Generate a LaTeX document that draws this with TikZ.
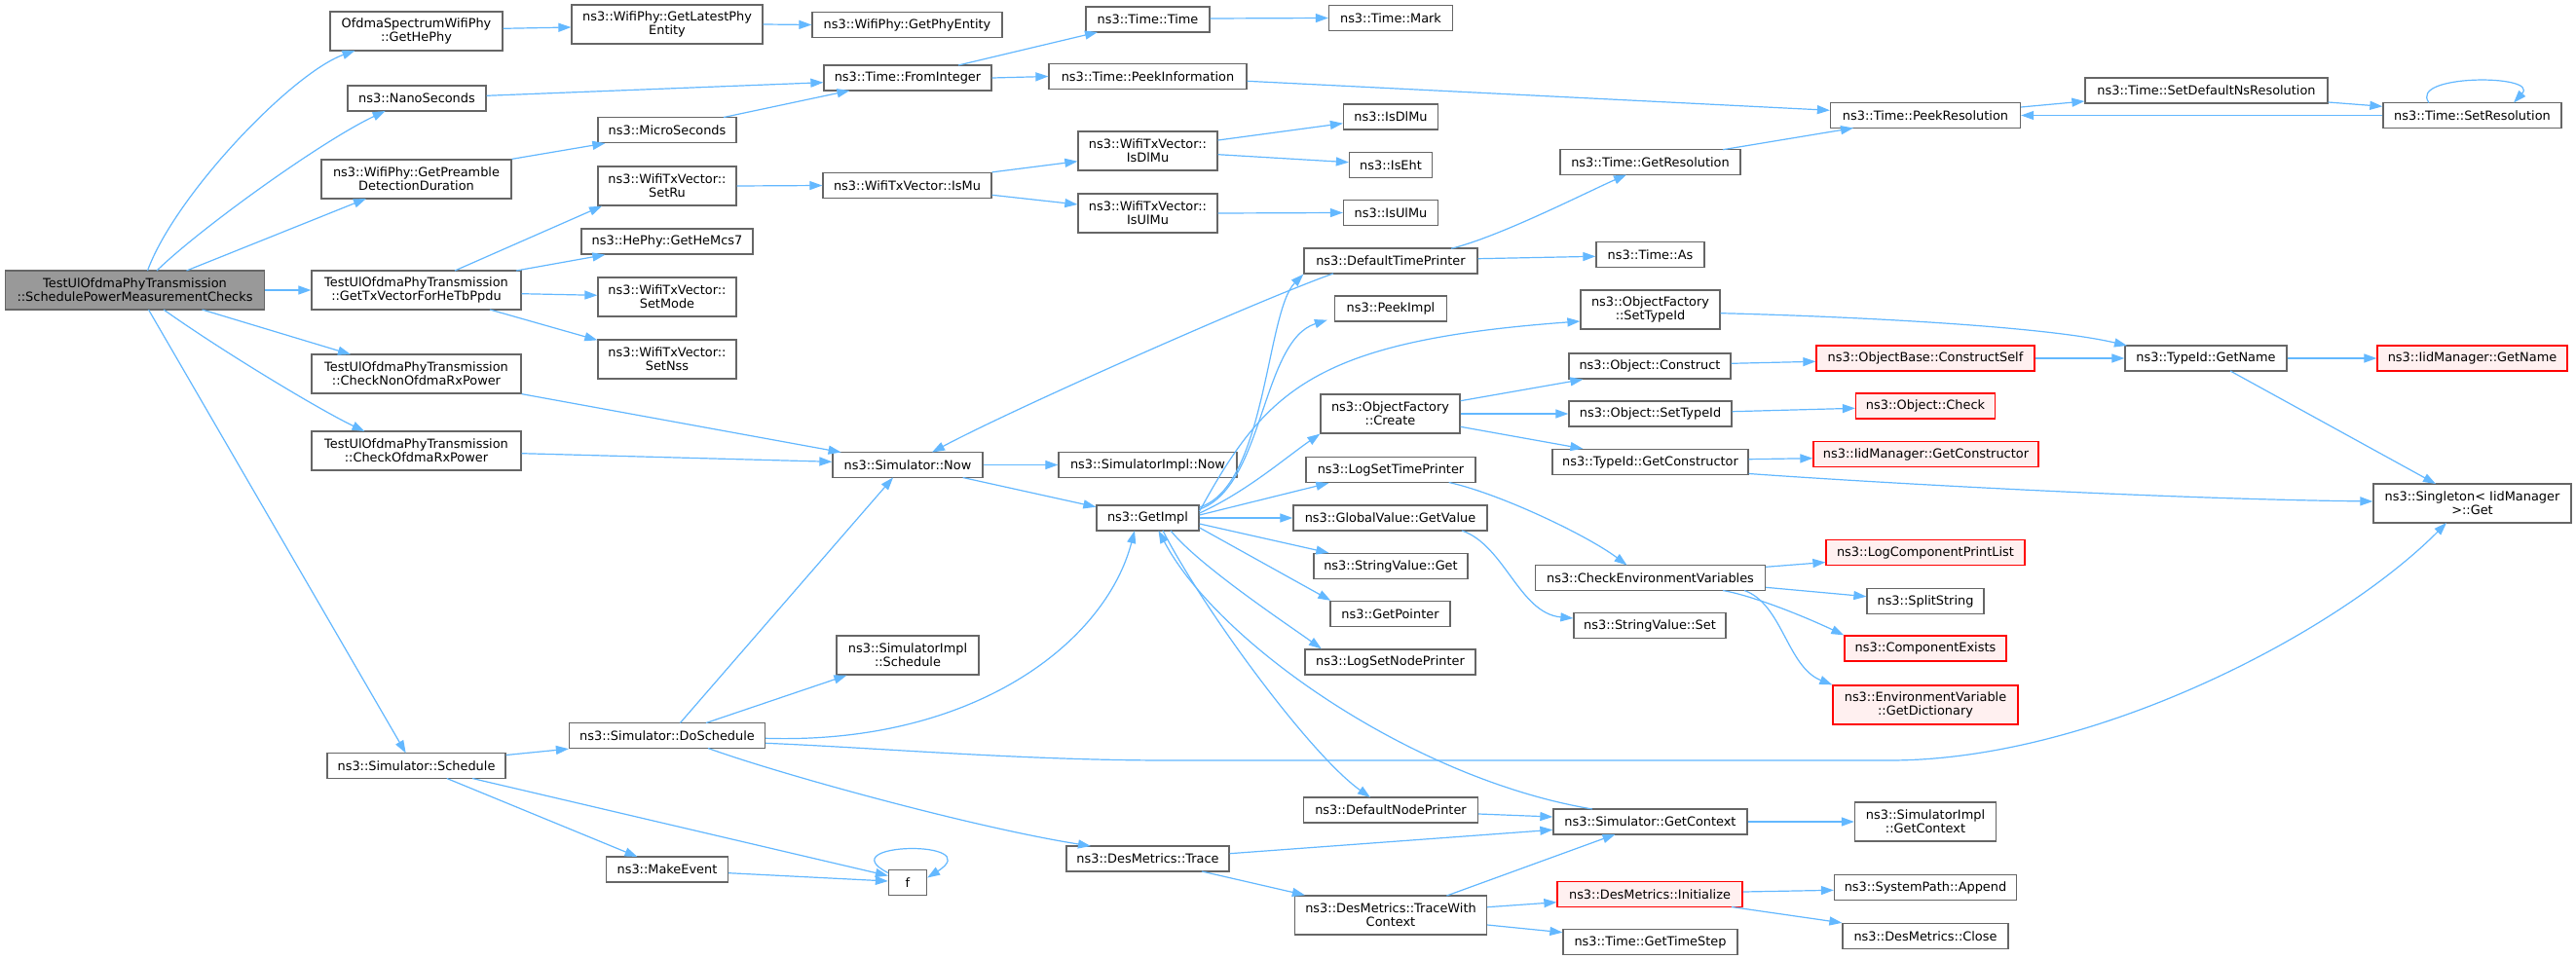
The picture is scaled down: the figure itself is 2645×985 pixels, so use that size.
\documentclass[tikz,border=0pt]{standalone}
\usepackage{fontspec}
\newfontfamily\dvsfam{DejaVu Sans}
\usetikzlibrary{arrows.meta,calc}
\definecolor{edgeblue}{RGB}{99,184,255}
\definecolor{nodegray}{RGB}{102,102,102}
\definecolor{maingray}{RGB}{153,153,153}
\definecolor{redfill}{RGB}{255,240,240}
\definecolor{redline}{RGB}{255,0,0}
\newcommand{\myNodeFont}{\dvsfam\fontsize{12.9pt}{13.8pt}\selectfont}
\tikzset{
  box/.style={draw=nodegray, fill=white, line width=1.3pt, inner sep=0pt, align=center, font=\myNodeFont},
  redbox/.style={box, draw=redline, fill=redfill},
  mainbox/.style={box, fill=maingray},
  hone/.style={minimum height=26pt},
  htwo/.style={minimum height=40pt},
  edge/.style={draw=edgeblue, line width=1.2pt, -{Triangle[length=13pt,width=9pt]}},
}
\begin{document}
\begin{tikzpicture}[x=1pt,y=-1pt]
\fill[white] (0,0) rectangle (2645,985);
\useasboundingbox (0,0) rectangle (2645,985);
% column 0
\node[mainbox,htwo,minimum width=266pt] (main) at (138.5,298) {TestUlOfdmaPhyTransmission\\::SchedulePowerMeasurementChecks};
% column 1
\node[box,htwo,minimum width=177pt] (hephy) at (427.5,32) {OfdmaSpectrumWifiPhy\\::GetHePhy};
\node[box,hone,minimum width=142pt] (nano) at (428,101) {ns3::NanoSeconds};
\node[box,htwo,minimum width=195pt] (preamble) at (427.5,184) {ns3::WifiPhy::GetPreamble\\DetectionDuration};
\node[box,htwo,minimum width=215pt] (gettx) at (427.5,298) {TestUlOfdmaPhyTransmission\\::GetTxVectorForHeTbPpdu};
\node[box,htwo,minimum width=215pt] (nonofdma) at (427.5,384) {TestUlOfdmaPhyTransmission\\::CheckNonOfdmaRxPower};
\node[box,htwo,minimum width=215pt] (ofdma) at (427.5,463) {TestUlOfdmaPhyTransmission\\::CheckOfdmaRxPower};
\node[box,hone,minimum width=183pt] (schedule) at (427.5,786.5) {ns3::Simulator::Schedule};
% column 2
\node[box,htwo,minimum width=196pt] (latest) at (685,25) {ns3::WifiPhy::GetLatestPhy\\Entity};
\node[box,hone,minimum width=142pt] (micro) at (685,133.5) {ns3::MicroSeconds};
\node[box,htwo,minimum width=142pt] (setru) at (685,191) {ns3::WifiTxVector::\\SetRu};
\node[box,hone,minimum width=176pt] (mcs7) at (685,248) {ns3::HePhy::GetHeMcs7};
\node[box,htwo,minimum width=142pt] (setmode) at (685,305) {ns3::WifiTxVector::\\SetMode};
\node[box,htwo,minimum width=142pt] (setnss) at (685,369) {ns3::WifiTxVector::\\SetNss};
\node[box,hone,minimum width=201pt] (dosched) at (685,755.5) {ns3::Simulator::DoSchedule};
\node[box,hone,minimum width=125pt] (makeevent) at (685,893) {ns3::MakeEvent};
% column 3
\node[box,hone,minimum width=195pt] (phyentity) at (931.5,25.5) {ns3::WifiPhy::GetPhyEntity};
\node[box,hone,minimum width=172pt] (fromint) at (932,80) {ns3::Time::FromInteger};
\node[box,hone,minimum width=173pt] (ismu) at (931.5,190.5) {ns3::WifiTxVector::IsMu};
\node[box,hone,minimum width=154pt] (now) at (932,477.5) {ns3::Simulator::Now};
\node[box,htwo,minimum width=146pt] (implsched) at (932,673) {ns3::SimulatorImpl\\::Schedule};
\node[box,hone,minimum width=39pt] (f) at (932,906.5) {f};
% column 4
\node[box,hone,minimum width=127pt] (timetime) at (1178.5,20) {ns3::Time::Time};
\node[box,hone,minimum width=203pt] (peekinfo) at (1178.5,78.5) {ns3::Time::PeekInformation};
\node[box,htwo,minimum width=143pt] (wdlmu) at (1178.5,155) {ns3::WifiTxVector::\\IsDlMu};
\node[box,htwo,minimum width=143pt] (wulmu) at (1178.5,219) {ns3::WifiTxVector::\\IsUlMu};
\node[box,hone,minimum width=183pt] (implnow) at (1178.5,477.5) {ns3::SimulatorImpl::Now};
\node[box,hone,minimum width=105pt] (getimpl) at (1178.5,532) {ns3::GetImpl};
\node[box,hone,minimum width=167pt] (trace) at (1178.5,882) {ns3::DesMetrics::Trace};
% column 5
\node[box,hone,minimum width=127pt] (mark) at (1428,18.5) {ns3::Time::Mark};
\node[box,hone,minimum width=97pt] (isdlmu) at (1428,120) {ns3::IsDlMu};
\node[box,hone,minimum width=85pt] (iseht) at (1428,169.5) {ns3::IsEht};
\node[box,hone,minimum width=97pt] (isulmu) at (1428,218.5) {ns3::IsUlMu};
\node[box,hone,minimum width=178pt] (dtp) at (1428,268) {ns3::DefaultTimePrinter};
\node[box,hone,minimum width=115pt] (peekimpl) at (1428,317) {ns3::PeekImpl};
\node[box,htwo,minimum width=143pt] (ofcreate) at (1427.5,425) {ns3::ObjectFactory\\::Create};
\node[box,hone,minimum width=174pt] (logtime) at (1428,482.5) {ns3::LogSetTimePrinter};
\node[box,hone,minimum width=199pt] (gvget) at (1427.5,532) {ns3::GlobalValue::GetValue};
\node[box,hone,minimum width=158pt] (svget) at (1428,581.5) {ns3::StringValue::Get};
\node[box,hone,minimum width=123pt] (getptr) at (1427.5,630.5) {ns3::GetPointer};
\node[box,hone,minimum width=175pt] (lognode) at (1427.5,680) {ns3::LogSetNodePrinter};
\node[box,hone,minimum width=179pt] (dnp) at (1428,832) {ns3::DefaultNodePrinter};
\node[box,htwo,minimum width=197pt] (twc) at (1428,940) {ns3::DesMetrics::TraceWith\\Context};
% column 6
\node[box,hone,minimum width=185pt] (getres) at (1694.5,166.5) {ns3::Time::GetResolution};
\node[box,hone,minimum width=111pt] (as) at (1694.5,261.5) {ns3::Time::As};
\node[box,htwo,minimum width=143pt] (ofsettype) at (1694.5,318) {ns3::ObjectFactory\\::SetTypeId};
\node[box,hone,minimum width=166pt] (construct) at (1694,376) {ns3::Object::Construct};
\node[box,hone,minimum width=167pt] (osettype) at (1694.5,425) {ns3::Object::SetTypeId};
\node[box,hone,minimum width=201pt] (getctor) at (1694.5,474.5) {ns3::TypeId::GetConstructor};
\node[box,hone,minimum width=236pt] (checkenv) at (1694.5,593.5) {ns3::CheckEnvironmentVariables};
\node[box,hone,minimum width=156pt] (svset) at (1694,642.5) {ns3::StringValue::Set};
\node[box,hone,minimum width=199pt] (getctx) at (1694.5,844) {ns3::Simulator::GetContext};
\node[redbox,hone,minimum width=190pt] (init) at (1694,918.5) {ns3::DesMetrics::Initialize};
\node[box,hone,minimum width=179pt] (timestep) at (1694.5,967.5) {ns3::Time::GetTimeStep};
% column 7
\node[box,hone,minimum width=195pt] (peekres) at (1977,118.5) {ns3::Time::PeekResolution};
\node[redbox,hone,minimum width=224pt] (cself) at (1977,368) {ns3::ObjectBase::ConstructSelf};
\node[redbox,hone,minimum width=143pt] (check) at (1977,417) {ns3::Object::Check};
\node[redbox,hone,minimum width=231pt] (iidctor) at (1977.5,466.5) {ns3::IidManager::GetConstructor};
\node[redbox,hone,minimum width=204pt] (logcomp) at (1977,567.5) {ns3::LogComponentPrintList};
\node[box,hone,minimum width=120pt] (split) at (1977,617.5) {ns3::SplitString};
\node[redbox,hone,minimum width=166pt] (compexists) at (1977,666) {ns3::ComponentExists};
\node[redbox,htwo,minimum width=190pt] (dict) at (1977,724) {ns3::EnvironmentVariable\\::GetDictionary};
\node[box,htwo,minimum width=145pt] (implctx) at (1977,844) {ns3::SimulatorImpl\\::GetContext};
\node[box,hone,minimum width=187pt] (append) at (1977,911.5) {ns3::SystemPath::Append};
\node[box,hone,minimum width=170pt] (close) at (1977,961.5) {ns3::DesMetrics::Close};
% column 8
\node[box,hone,minimum width=249pt] (setdefns) at (2265.5,93) {ns3::Time::SetDefaultNsResolution};
\node[box,hone,minimum width=166pt] (getname) at (2265,368) {ns3::TypeId::GetName};
% column 9
\node[box,hone,minimum width=183pt] (setres) at (2538.5,118.5) {ns3::Time::SetResolution};
\node[redbox,hone,minimum width=195pt] (iidname) at (2538.5,368) {ns3::IidManager::GetName};
\node[box,htwo,minimum width=203pt] (singleton) at (2538.5,517) {ns3::Singleton< IidManager\\>::Get};

% edges from main
\draw[edge] ($(main)+(13,-20)$) .. controls (180,200) and (300,75) .. ($(hephy)+(-63,20)$);
\draw[edge] ($(main)+(22.5,-20)$) .. controls (205,235) and (330,145) .. ($(nano)+(-32.4,13)$);
\draw[edge] ($(main)+(53,-20)$) -- ($(preamble)+(-51.5,20)$);
\draw[edge] (main.east) -- (gettx.west);
\draw[edge] ($(main)+(69,20)$) -- ($(nonofdma)+(-67.5,-20)$);
\draw[edge] ($(main)+(29.5,20)$) .. controls (230,362) and (330,422) .. ($(ofdma)+(-53,-20)$);
\draw[edge] ($(main)+(14,20)$) -- ($(schedule)+(-10.8,-13)$);
% column 1 out
\draw[edge] ($(hephy.east)+(0,-2.7)$) -- ($(latest.west)+(0,3)$);
\draw[edge] ($(nano.east)+(0,-2.7)$) -- ($(fromint.west)+(0,4.7)$);
\draw[edge] (preamble.north east) -- ($(micro.south west)+(8,0)$);
\draw[edge] ($(gettx)+(39.5,-20)$) -- ($(setru.south west)+(4.7,0)$);
\draw[edge] ($(gettx)+(102.5,-20)$) -- ($(mcs7.south west)+(25,0)$);
\draw[edge] ($(gettx.east)+(0,3.7)$) -- ($(setmode.west)+(0,-1.7)$);
\draw[edge] ($(gettx)+(75.5,20)$) -- ($(setnss.north west)+(0,1)$);
\draw[edge] (nonofdma.south east) -- ($(now)+(-68.4,-13)$);
\draw[edge] ($(ofdma.east)+(0,2.7)$) -- ($(now.west)+(0,-3.2)$);
\draw[edge] ($(schedule.east)+(0,-11)$) -- (dosched.south west);
\draw[edge] ($(schedule)+(31.3,13)$) -- ($(makeevent)+(-30.5,-13)$);
\draw[edge] ($(schedule)+(57.5,13)$) -- ($(f.west)+(0,-7)$);
% column 2 out
\draw[edge] ($(micro)+(58,-13)$) -- ($(fromint)+(-59.5,13)$);
\draw[edge] (latest.east) -- (phyentity.west);
\draw[edge] (setru.east) -- (ismu.west);
\draw[edge] ($(dosched)+(13.4,-13)$) -- ($(now)+(-15,13)$);
\draw[edge] ($(dosched)+(40,-13)$) -- ($(implsched.south west)+(11,0)$);
\draw[edge] ($(dosched.east)+(0,2.8)$) .. controls (1000,765) and (1135,660) .. ($(getimpl)+(-13.5,13)$);
\draw[edge] ($(dosched.east)+(0,7.8)$) .. controls (900,768) and (1050,781) .. (1200,781) -- (1940,781) .. controls (2150,781) and (2400,650) .. ($(singleton)+(-26.5,20)$);
\draw[edge] ($(dosched)+(42,13)$) .. controls (800,795) and (1000,850) .. ($(trace)+(-58.5,-13)$);
\draw[edge] ($(makeevent.east)+(0,3.7)$) -- ($(f.west)+(0,-1.5)$);
% column 3 out
\draw[edge] ($(fromint)+(52,-13)$) -- ($(timetime)+(-51.5,13)$);
\draw[edge] (fromint.east) -- (peekinfo.west);
\draw[edge] (ismu.north east) -- ($(wdlmu.west)+(0,10.7)$);
\draw[edge] ($(ismu.east)+(0,9.8)$) -- ($(wulmu.west)+(0,-9)$);
\draw[edge] (now.east) -- (implnow.west);
\draw[edge] ($(now)+(56.6,13)$) -- ($(getimpl.west)+(0,-11.3)$);
\draw[edge] ($(f.west)+(0,-10)$) .. controls (850,865) and (1015,862) .. ($(f.east)+(0,-5)$);
% column 4 out
\draw[edge] ($(timetime.east)+(0,-1)$) -- (mark.west);
\draw[edge] ($(wdlmu.east)+(0,-11)$) -- ($(isdlmu.west)+(0,6.7)$);
\draw[edge] ($(wdlmu.east)+(0,3.7)$) -- ($(iseht.west)+(0,-2.8)$);
\draw[edge] (wulmu.east) -- (isulmu.west);
\draw[edge] ($(peekinfo.east)+(0,4.8)$) -- ($(peekres.west)+(0,-5.2)$);
\draw[edge] ($(getimpl.east)+(0,-11)$) .. controls (1300,500) and (1300,320) .. (dtp.south west);
\draw[edge] ($(getimpl.east)+(0,-9)$) .. controls (1298,500) and (1295,350) .. ($(peekimpl.south west)+(-7,-2)$);
\draw[edge] ($(getimpl.east)+(0,-7)$) .. controls (1300,400) and (1350,350) .. ($(ofsettype.west)+(0,12)$);
\draw[edge] ($(getimpl.east)+(0,-5)$) .. controls (1280,505) and (1320,470) .. (ofcreate.south west);
\draw[edge] ($(getimpl.east)+(0,-3)$) -- ($(logtime.south west)+(24,0)$);
\draw[edge] (getimpl.east) -- (gvget.west);
\draw[edge] ($(getimpl.east)+(0,6)$) -- ($(svget.north west)+(16,0)$);
\draw[edge] ($(getimpl.east)+(0,10)$) -- ($(getptr.north west)+(1,0)$);
\draw[edge] ($(getimpl)+(23.5,13)$) .. controls (1230,580) and (1320,640) .. ($(lognode.north west)+(17.5,0)$);
\draw[edge] ($(getimpl)+(15.5,13)$) .. controls (1235,625) and (1345,775) .. ($(dnp)+(-21,-13)$);
\draw[edge] ($(trace.east)+(0,-5.3)$) -- ($(getctx.west)+(0,8.3)$);
\draw[edge] ($(trace)+(55.5,13)$) -- ($(twc.north west)+(11,0)$);
% column 5 out
\draw[edge] ($(dtp)+(62,-12.7)$) .. controls (1540,243) and (1630,197) .. ($(getres)+(-24.5,13)$);
\draw[edge] ($(dtp.east)+(0,-2.3)$) -- ($(as.west)+(0,1.8)$);
\draw[edge] ($(dtp)+(-59,13)$) .. controls (1300,305) and (1040,420) .. ($(now)+(25,-13)$);
\draw[edge] ($(ofcreate.east)+(0,-13.3)$) -- ($(construct.south west)+(15,0)$);
\draw[edge] (ofcreate.east) -- (osettype.west);
\draw[edge] ($(ofcreate.east)+(0,13.3)$) -- ($(getctor.north west)+(32,0)$);
\draw[edge] ($(logtime)+(59.7,13)$) .. controls (1540,507) and (1630,550) .. ($(checkenv)+(-24,-13)$);
\draw[edge] ($(gvget)+(73.5,13)$) .. controls (1545,560) and (1560,630) .. ($(svset.west)+(0,-7.5)$);
\draw[edge] ($(dnp.east)+(0,4)$) -- ($(getctx.west)+(0,-5)$);
\draw[edge] ($(twc)+(57.4,-20)$) -- ($(getctx)+(-36,13)$);
\draw[edge] ($(twc.east)+(0,-8.3)$) -- ($(init.west)+(0,8.2)$);
\draw[edge] ($(twc.east)+(0,10)$) -- ($(timestep.west)+(0,-9.8)$);
% column 6 out
\draw[edge] ($(getres)+(74.5,-12.8)$) -- ($(peekres)+(-74,13)$);
\draw[edge] ($(ofsettype.east)+(0,3.7)$) .. controls (1900,325) and (2100,335) .. ($(getname)+(-81,-13)$);
\draw[edge] ($(construct.east)+(0,-2.7)$) -- ($(cself.west)+(0,3.3)$);
\draw[edge] ($(osettype.east)+(0,-2.3)$) -- ($(check.west)+(0,2.3)$);
\draw[edge] ($(getctor.east)+(0,-2.8)$) -- ($(iidctor.west)+(0,4.2)$);
\draw[edge] ($(getctor.east)+(0,12)$) .. controls (1900,494) and (2200,512) .. ($(singleton.west)+(0,-2)$);
\draw[edge] ($(checkenv.east)+(0,-11.2)$) -- ($(logcomp.west)+(0,10)$);
\draw[edge] ($(checkenv.east)+(0,9.8)$) -- ($(split.west)+(0,-4.8)$);
\draw[edge] ($(checkenv)+(74.5,13)$) .. controls (1800,612) and (1850,632) .. (compexists.north west);
\draw[edge] ($(checkenv)+(96.5,13)$) .. controls (1830,620) and (1835,685) .. (dict.north west);
\draw[edge] ($(getctx)+(-59.5,-13)$) .. controls (1450,800) and (1250,660) .. ($(getimpl)+(11,13)$);
\draw[edge] (getctx.east) -- (implctx.west);
\draw[edge] ($(init.east)+(0,-2.5)$) -- ($(append.west)+(0,2.8)$);
\draw[edge] ($(init)+(83.8,13)$) -- (close.north west);
% column 7+ out
\draw[edge] (cself.east) -- (getname.west);
\draw[edge] ($(peekres.east)+(0,-8.5)$) -- ($(setdefns.west)+(0,11)$);
\draw[edge] ($(setdefns.east)+(0,12)$) -- ($(setres.west)+(0,-9.2)$);
\draw[edge] (setres.west) -- (peekres.east);
\draw[edge] ($(setres)+(-44.5,-13)$) .. controls (2472,76) and (2608,76) .. ($(setres)+(42.5,-13)$);
\draw[edge] (getname.east) -- (iidname.west);
\draw[edge] ($(getname)+(25,13)$) -- ($(singleton)+(-37.5,-20)$);
\end{tikzpicture}
\end{document}
